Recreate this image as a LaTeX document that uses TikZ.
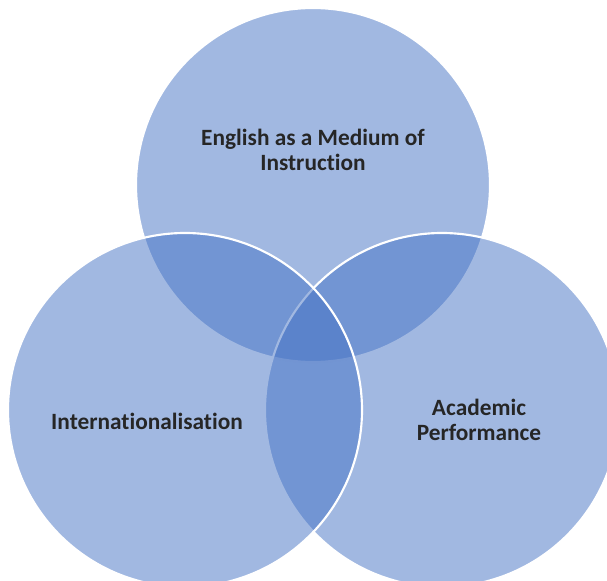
\documentclass[tikz,border=0pt]{standalone}
\usepackage{fontspec}
\setmainfont{Carlito}[Ligatures=NoCommon]
\tikzset{every picture/.style={line width=0.75pt}}
\definecolor{vennblue}{RGB}{68,114,196}
\definecolor{venntext}{RGB}{38,38,38}
\tikzset{venn/.style={draw=white, line width=1.6, fill=vennblue, fill opacity=0.5},
  vennlabel/.style={inner sep=0.75pt, align=center, text=venntext, font=\bfseries\fontsize{17.5}{19}\selectfont}}
\begin{document}
\begin{tikzpicture}[x=0.75pt,y=0.75pt,yscale=-1,xscale=1]
\useasboundingbox (0,0) rectangle (607,581);
\clip (0,0) rectangle (607,581);

%Shape: Circle [top]
\draw [venn] (313,185) circle [radius=177];
%Shape: Circle [right]
\draw [venn] (442,410) circle [radius=177];
%Shape: Circle [left]
\draw [venn] (185,410) circle [radius=177];

% Text Node
\draw (313,150) node [vennlabel] (emi) {English as a Medium of\\Instruction};
% Text Node
\draw (147,421) node [vennlabel] (intl) {Internationalisation};
% Text Node
\draw (479,420) node [vennlabel] (perf) {Academic\\Performance};
\end{tikzpicture}
\end{document}
